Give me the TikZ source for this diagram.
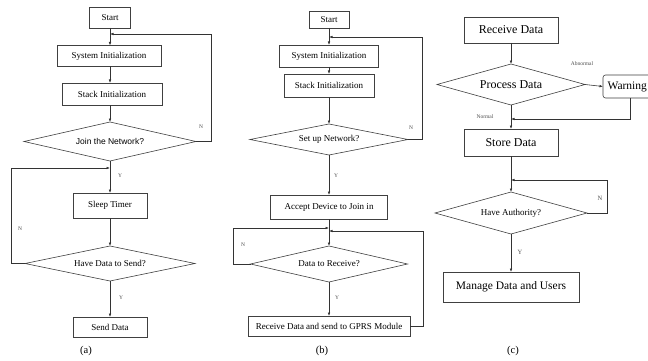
\documentclass[tikz,border=0pt]{standalone}
\usepackage{fontspec}
\setmainfont{Liberation Serif}
\newfontfamily\arialfont{Liberation Sans}
\usetikzlibrary{shapes.geometric,arrows.meta}
\tikzset{
  box/.style={draw=black!75, line width=0.6pt, inner sep=0pt, outer sep=0pt, font=\fontsize{9}{10}\selectfont},
  bigbox/.style={box, font=\fontsize{12}{14}\selectfont},
  dia/.style={draw=black!75, line width=0.6pt, diamond, aspect=4, inner sep=0pt, outer sep=0pt, font=\fontsize{9}{10}\selectfont},
  arr/.style={draw=black!80, line width=0.6pt, -{Latex[length=3.5pt,width=2.6pt]}},
  lbl/.style={font=\fontsize{5.5}{6}\selectfont, text=black!70, inner sep=0pt},
  capt/.style={font=\fontsize{10.5}{12}\selectfont, inner sep=0pt}
}
\begin{document}
\begin{tikzpicture}[x=1pt,y=-1pt]
\clip (0,0) rectangle (648,361);
\fill[white] (0,0) rectangle (648,361);
% ---------------- panel (a)
\node[box, minimum width=41, minimum height=21] (startA) at (110,17.5) {Start};
\node[box, minimum width=104, minimum height=21] (sysA) at (109,56) {System Initialization};
\node[box, minimum width=100, minimum height=22] (stackA) at (112,94) {Stack Initialization};
\node[dia, minimum width=172, minimum height=39, font=\arialfont\fontsize{8.5}{10}\selectfont] (d1A) at (110,141.5) {Join the Network?};
\node[box, minimum width=74, minimum height=25] (sleepA) at (110,205.5) {Sleep Timer};
\node[dia, minimum width=170, minimum height=35] (d2A) at (110,263.5) {Have Data to Send?};
\node[box, minimum width=74, minimum height=20] (sendA) at (110,327) {Send Data};
\coordinate (jA) at (110,34);
\coordinate (rA) at (211,34);
\coordinate (kA) at (110,168);
\coordinate (lA) at (11,168);
\draw[arr] (startA) -- (startA |- sysA.north);
\draw[arr] (sysA.south -| startA) -- (startA |- stackA.north);
\draw[arr] (stackA.south -| startA) -- (d1A);
\draw[arr] (d1A.east) -| (rA) -- (jA);
\draw[arr] (d1A) -- (sleepA);
\draw[arr] (sleepA) -- (d2A);
\draw[arr] (d2A.west) -| (lA) -- (kA);
\draw[arr] (d2A) -- (sendA);
\node[lbl] (nA1) at (201,127) {N};
\node[lbl] (yA1) at (120,176) {Y};
\node[lbl] (nA2) at (20,229) {N};
\node[lbl] (yA2) at (121,298) {Y};
\node[capt] (capA) at (86,351) {(a)};
% ---------------- panel (b)
\node[box, minimum width=40, minimum height=17] (startB) at (329,19.5) {Start};
\node[box, minimum width=99, minimum height=22] (sysB) at (329,56) {System Initialization};
\node[box, minimum width=90, minimum height=23] (stackB) at (329,85.5) {Stack Initialization};
\node[dia, minimum width=158, minimum height=31] (d1B) at (329,139.5) {Set up Network?};
\node[box, minimum width=117, minimum height=24] (accB) at (329,207) {Accept Device to Join in};
\node[dia, minimum width=157, minimum height=36] (d2B) at (329,264) {Data to Receive?};
\node[box, minimum width=162, minimum height=20] (recvB) at (329,326) {Receive Data and send to GPRS Module};
\coordinate (jB) at (329,37);
\coordinate (rB) at (422,37);
\coordinate (kB1) at (329,228);
\coordinate (lB) at (233,228);
\coordinate (kB2) at (329,231);
\coordinate (rB2) at (423,231);
\draw[arr] (startB) -- (sysB);
\draw[arr] (sysB) -- (stackB);
\draw[arr] (stackB) -- (d1B);
\draw[arr] (d1B.east) -| (rB) -- (jB);
\draw[arr] (d1B) -- (accB);
\draw[arr] (accB) -- (d2B);
\draw[arr] (d2B.west) -| (lB) -- (kB1);
\draw[arr] (recvB.east) -| (rB2) -- (kB2);
\draw[arr] (d2B) -- (recvB);
\node[lbl] (nB1) at (411,128) {N};
\node[lbl] (yB1) at (336,176) {Y};
\node[lbl] (nB2) at (243,245) {N};
\node[lbl] (yB2) at (337,298) {Y};
\node[capt] (capB) at (322,351) {(b)};
% ---------------- panel (c)
\node[bigbox, minimum width=94, minimum height=26] (recvC) at (511,30) {Receive Data};
\node[dia, minimum width=148, minimum height=41, font=\fontsize{12}{14}\selectfont] (d1C) at (511,84.5) {Process Data};
\node[bigbox, rounded corners=2.5pt, minimum width=54, minimum height=23, font=\fontsize{11.5}{14}\selectfont] (warnC) at (630,86.5) {Warning\hspace*{5.5pt}};
\node[bigbox, minimum width=94, minimum height=27] (storeC) at (511,142.5) {Store Data};
\node[dia, minimum width=152, minimum height=42] (d3C) at (511,213) {Have Authority?};
\node[bigbox, minimum width=136, minimum height=30, font=\fontsize{11.5}{14}\selectfont] (manC) at (511,287) {Manage Data and Users};
\coordinate (jC) at (511,119);
\coordinate (kC) at (511,180);
\coordinate (rC) at (607,180);
\draw[arr] (recvC) -- (d1C);
\draw[arr] (d1C.east) -- (warnC.west);
\draw[arr] (warnC.south) |- (jC);
\draw[arr] (d1C) -- (storeC);
\draw[arr] (storeC) -- (d3C);
\draw[arr] (d3C.east) -| (rC) -- (kC);
\draw[arr] (d3C) -- (manC);
\node[lbl] (abC) at (582,64) {Abnormal};
\node[lbl] (noC) at (485,117) {Normal};
\node[lbl, font=\fontsize{6.5}{7}\selectfont] (nC) at (600,198) {N};
\node[lbl, font=\fontsize{6.5}{7}\selectfont] (yC) at (520,252) {Y};
\node[capt] (capC) at (513,351) {(c)};
\end{tikzpicture}
\end{document}
